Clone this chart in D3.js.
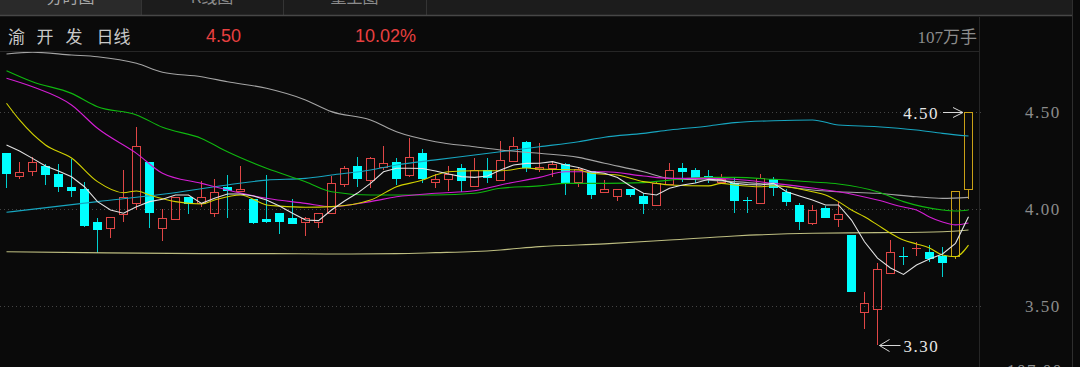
<!DOCTYPE html>
<html><head><meta charset="utf-8">
<script src="https://cdn.jsdelivr.net/npm/d3@7"></script>
<style>
html,body{margin:0;padding:0;background:#0a0a0a;overflow:hidden;}
svg{display:block;}
</style></head><body>
<svg id="chart" width="1080" height="367"></svg>
<script>
// ---------- data ----------
const tabLabels = ["分时图", "K线图", "量王图"];
const titleChars = ["渝", "开", "发", "日线"];
const lastPriceText = "4.50";
const changeText = "10.02%";
const volumeText = "107万手";
const yTicks = [3.5, 4.0, 4.5];
const volAxisText = "107.00";

const opens = [4.290,4.170,4.197,4.222,4.180,4.112,4.103,3.931,3.900,3.973,
  4.032,4.242,3.900,3.948,4.063,4.029,3.978,4.115,4.094,4.050,
  3.950,3.978,3.954,3.931,3.931,3.978,4.129,4.222,4.149,4.218,
  4.241,4.175,4.290,4.141,4.155,4.213,4.119,4.201,4.149,4.249,
  4.347,4.205,4.210,4.232,4.141,4.197,4.089,4.069,4.102,4.069,
  4.021,4.129,4.213,4.201,4.168,4.141,4.136,4.048,4.032,4.153,
  4.089,4.021,3.929,4.003,3.948,3.866,3.468,3.483,3.669,3.760,
  3.795,3.777,3.758,3.758,4.103];
const highs = [4.290,4.241,4.270,4.232,4.232,4.256,4.141,3.952,3.960,4.201,
  4.421,4.242,3.998,4.060,4.063,4.143,4.153,4.174,4.222,4.050,
  4.175,3.978,4.050,3.960,3.978,4.170,4.222,4.270,4.270,4.325,
  4.261,4.364,4.308,4.180,4.222,4.232,4.261,4.261,4.351,4.373,
  4.352,4.342,4.249,4.239,4.218,4.197,4.149,4.102,4.102,4.081,
  4.141,4.236,4.236,4.210,4.201,4.180,4.158,4.060,4.180,4.166,
  4.102,4.032,4.021,4.015,4.038,3.866,3.571,3.723,3.840,3.806,
  3.831,3.814,3.803,4.093,4.500];
const lows = [4.108,4.153,4.172,4.124,4.089,4.063,3.906,3.772,3.849,3.931,
  3.995,3.904,3.835,3.943,3.974,4.012,3.960,3.952,4.089,3.921,
  3.930,3.871,3.923,3.862,3.904,3.978,4.112,4.112,4.107,4.201,
  4.124,4.163,4.132,4.110,4.094,4.086,4.119,4.132,4.149,4.249,
  4.192,4.190,4.163,4.072,4.112,4.050,4.089,4.043,4.063,3.974,
  4.015,4.129,4.141,4.132,4.132,4.141,3.981,3.981,4.032,4.067,
  4.015,3.892,3.918,3.952,3.906,3.574,3.381,3.300,3.669,3.711,
  3.758,3.728,3.651,3.741,4.052];
const closes = [4.182,4.192,4.241,4.174,4.113,4.091,3.912,3.892,3.960,4.062,
  4.325,3.981,3.952,4.060,4.026,4.060,4.089,4.093,4.102,3.926,
  3.933,3.931,3.923,3.954,3.978,4.132,4.213,4.153,4.261,4.235,
  4.153,4.270,4.153,4.153,4.180,4.144,4.201,4.158,4.253,4.325,
  4.213,4.218,4.232,4.132,4.206,4.072,4.102,4.102,4.072,4.024,
  4.132,4.201,4.192,4.155,4.165,4.153,4.043,4.043,4.158,4.107,
  4.038,3.935,3.995,3.952,3.974,3.574,3.517,3.689,3.780,3.755,
  3.800,3.741,3.723,4.093,4.500];

// moving averages
const ma5 = [4.330,4.299,4.261,4.222,4.196,4.166,4.115,4.038,3.995,3.978,
  4.012,4.038,4.050,4.072,4.072,4.029,4.055,4.077,4.077,4.067,
  4.046,4.015,3.978,3.943,3.940,3.995,4.041,4.082,4.132,4.192,
  4.210,4.210,4.209,4.196,4.180,4.167,4.163,4.170,4.201,4.227,
  4.235,4.236,4.244,4.227,4.214,4.192,4.184,4.162,4.119,4.081,
  4.072,4.107,4.124,4.134,4.153,4.149,4.132,4.126,4.124,4.132,
  4.089,4.067,4.046,4.021,4.021,3.943,3.831,3.747,3.696,3.663,
  3.711,3.742,3.768,3.823,3.960];
const ma10 = [[0,4.545],[1,4.459],[3,4.330],[5,4.263],[7,4.141],[9,4.084],[10,4.093],[11,4.072],
  [13,4.038],[15,4.026],[16,4.046],[18,4.072],[20,4.021],[21,4.015],[23,4.009],[25,4.012],
  [28,4.046],[30,4.115],[32,4.149],[33,4.175],[34,4.192],[36,4.197],[38,4.197],[40,4.211],
  [41,4.206],[44,4.201],[45,4.184],[47,4.175],[49,4.141],[50,4.132],[51,4.124],[54,4.119],
  [55,4.132],[56,4.124],[58,4.115],[59,4.120],[60,4.115],[62,4.089],[63,4.072],[64,4.038],
  [65,3.995],[66,3.960],[67,3.918],[68,3.875],[69,3.840],[70,3.820],[71,3.799],[72,3.763],
  [73,3.754],[74,3.814]];
const ma20 = [[0,4.674],[2,4.630],[5,4.536],[7,4.416],[10,4.287],[12,4.184],[15,4.132],[17,4.098],
  [20,4.055],[23,4.029],[25,4.012],[28,4.038],[30,4.063],[33,4.081],[36,4.094],[38,4.124],
  [41,4.163],[43,4.192],[46,4.192],[49,4.170],[51,4.158],[54,4.158],[56,4.153],[59,4.132],
  [62,4.108],[64,4.089],[67,4.046],[69,4.010],[70,3.995],[71,3.959],[72,3.933],[73,3.918],[74,3.928]];
const ma30 = [[0,4.713],[2,4.656],[5,4.596],[7,4.527],[10,4.485],[12,4.421],[15,4.364],[17,4.295],
  [20,4.210],[23,4.141],[25,4.089],[28,4.072],[31,4.072],[33,4.072],[36,4.081],[38,4.107],
  [41,4.119],[43,4.132],[46,4.132],[49,4.136],[51,4.149],[54,4.163],[56,4.163],[59,4.153],
  [62,4.139],[64,4.129],[67,4.089],[69,4.038],[72,3.995],[73,3.990],[74,3.995]];
const ma60 = [[0,4.799],[2,4.808],[5,4.794],[7,4.785],[10,4.751],[12,4.705],[15,4.682],[17,4.656],
  [20,4.622],[23,4.562],[25,4.502],[28,4.459],[30,4.398],[33,4.347],[36,4.321],[38,4.304],
  [41,4.287],[44,4.266],[46,4.236],[49,4.192],[51,4.158],[54,4.149],[56,4.141],[59,4.124],
  [62,4.098],[64,4.089],[67,4.081],[70,4.063],[72,4.055],[74,4.060]];
const ma120 = [[0,3.983],[7,4.038],[12,4.076],[17,4.124],[20,4.149],[23,4.158],[25,4.175],[28,4.201],
  [30,4.227],[33,4.253],[36,4.278],[38,4.295],[41,4.321],[44,4.347],[46,4.370],[49,4.390],
  [51,4.407],[54,4.428],[56,4.445],[59,4.455],[62,4.459],[64,4.433],[67,4.424],[70,4.407],
  [72,4.390],[74,4.376]];
const ma250 = [[0,3.780],[6,3.775],[15,3.770],[20,3.770],[25,3.768],[30,3.770],[33,3.775],[36,3.781],
  [38,3.789],[41,3.806],[46,3.820],[51,3.840],[56,3.861],[62,3.875],[67,3.878],[72,3.883],[74,3.892]];

// ---------- drawing ----------
const svg = d3.select("#chart");
const W = 1080, H = 367;
const plotRight = 979, axisRight = 1072;
const bg = "#0a0a0a";

svg.append("rect").attr("width", W).attr("height", H).attr("fill", bg);

// tab bar
const tabW = [0, 141, 283, 426];
svg.append("rect").attr("x", 0).attr("y", 0).attr("width", axisRight).attr("height", 15).attr("fill", "#1c1c1c");
svg.append("rect").attr("x", 0).attr("y", 0).attr("width", 141).attr("height", 15).attr("fill", "#2a2a2a");
[141.5, 283.5, 426.5].forEach(x => svg.append("line").attr("x1", x).attr("x2", x).attr("y1", 0).attr("y2", 15).attr("stroke", "#343434"));
svg.append("line").attr("x1", 0).attr("x2", axisRight).attr("y1", 15.5).attr("y2", 15.5).attr("stroke", "#474747").attr("stroke-width", 1.5);
tabLabels.forEach((t, i) => {
  svg.append("text").attr("x", (tabW[i] + (tabW[i+1] || 0)) / 2).attr("y", 3)
    .attr("text-anchor", "middle").attr("font-family", "'Noto Sans CJK SC', sans-serif")
    .attr("font-size", 16).attr("fill", i === 0 ? "#a8a8a8" : "#8c8c8c").text(t);
});

// frame lines
svg.append("line").attr("x1", 0).attr("x2", plotRight).attr("y1", 51.5).attr("y2", 51.5).attr("stroke", "#262626");
svg.append("line").attr("x1", plotRight + 0.5).attr("x2", plotRight + 0.5).attr("y1", 17).attr("y2", H).attr("stroke", "#262626");
svg.append("line").attr("x1", axisRight + 0.5).attr("x2", axisRight + 0.5).attr("y1", 0).attr("y2", H).attr("stroke", "#2e2e2e");

// header
const title = svg.append("text").attr("y", 43).attr("font-family", "'Noto Sans CJK SC', sans-serif")
  .attr("font-size", 17).attr("fill", "#c8c8c8");
const titleX = [8, 36.5, 65.5, 96.5];
titleChars.forEach((c, i) => title.append("tspan").attr("x", titleX[i]).text(c));
svg.append("text").attr("x", 206).attr("y", 41.5).attr("font-family", "'Liberation Sans', Arial, sans-serif")
  .attr("font-size", 18).attr("fill", "#e84040").text(lastPriceText);
svg.append("text").attr("x", 355).attr("y", 41.5).attr("font-family", "'Liberation Sans', Arial, sans-serif")
  .attr("font-size", 18).attr("fill", "#e84040").text(changeText);
svg.append("text").attr("x", 977).attr("y", 43).attr("text-anchor", "end")
  .attr("font-family", "'Liberation Serif', 'Noto Sans CJK SC', serif")
  .attr("font-size", 17).attr("fill", "#8c8c8c").text(volumeText);

// scales
const n = closes.length;
const x = d3.scaleBand().domain(d3.range(n)).range([0, 975]).paddingInner(0.3).paddingOuter(0.15);
const y = d3.scaleLinear().domain([3.5, 4.5]).range([306, 112]);
const cx = i => x(i) + x.bandwidth() / 2;

// grid
svg.append("g").selectAll("line").data(yTicks).join("line")
  .attr("x1", 0).attr("x2", 983)
  .attr("y1", d => Math.round(y(d)) + 0.5).attr("y2", d => Math.round(y(d)) + 0.5)
  .attr("stroke", "#444").attr("stroke-dasharray", "1,3");

// right axis
const axis = svg.append("g").attr("transform", "translate(1025,0)")
  .call(d3.axisRight(y).tickValues(yTicks).tickSize(0).tickPadding(0).tickFormat(d3.format(".2f")));
axis.select(".domain").remove();
axis.selectAll("text").attr("font-family", "'Liberation Serif', serif").attr("font-size", 17)
  .attr("fill", "#8c8c8c").attr("letter-spacing", "1.5px").attr("x", 0);
svg.append("text").attr("x", 1007).attr("y", 376).attr("font-family", "'Liberation Serif', serif")
  .attr("font-size", 17).attr("fill", "#8c8c8c").attr("letter-spacing", "1.5px").text(volAxisText);

// plot area
svg.append("clipPath").attr("id", "plotClip").append("rect").attr("x", 0).attr("y", 52).attr("width", plotRight).attr("height", H - 52);
const plot = svg.append("g").attr("clip-path", "url(#plotClip)");

const RED = "#e04646", CYAN = "#00ffff", CYAN_W = "#00d0d0", GOLD = "#c9a016";
const candles = d3.range(n).map(i => {
  const prev = i > 0 ? closes[i - 1] : opens[i];
  const limitUp = (closes[i] - prev) / prev >= 0.099;
  return {i, o: opens[i], h: highs[i], l: lows[i], c: closes[i], limitUp};
});

const cg = plot.append("g");
candles.forEach(d => {
  const bx = Math.round(x(d.i));
  const wx = bx + 4.5;
  const up = d.c >= d.o;
  const yTop = Math.round(y(Math.max(d.o, d.c)));
  const yBot = Math.round(y(Math.min(d.o, d.c)));
  const yH = Math.round(y(d.h)), yL = Math.round(y(d.l));
  if (up || d.limitUp) {
    const col = d.limitUp ? GOLD : RED;
    if (yH < yTop) cg.append("line").attr("x1", wx).attr("x2", wx).attr("y1", yH).attr("y2", yTop).attr("stroke", col);
    if (yL > yBot) cg.append("line").attr("x1", wx).attr("x2", wx).attr("y1", yBot).attr("y2", yL).attr("stroke", col);
    if (yBot - yTop <= 1) {
      cg.append("line").attr("x1", bx).attr("x2", bx + 9).attr("y1", yTop + 0.5).attr("y2", yTop + 0.5).attr("stroke", col);
    } else {
      cg.append("rect").attr("x", bx + 0.5).attr("y", yTop + 0.5).attr("width", 8).attr("height", yBot - yTop)
        .attr("fill", "none").attr("stroke", col);
    }
  } else {
    cg.append("line").attr("x1", wx).attr("x2", wx).attr("y1", yH).attr("y2", yL).attr("stroke", CYAN_W);
    cg.append("rect").attr("x", bx).attr("y", yTop).attr("width", 9).attr("height", Math.max(1, yBot - yTop)).attr("fill", CYAN);
  }
});

// moving average lines (drawn over candles)
const lineIdx = d3.line().x(d => cx(d[0])).y(d => y(d[1])).curve(d3.curveMonotoneX);
const maStyles = [
  {data: ma250, color: "#bdbd80"},
  {data: ma120, color: "#17a6c0"},
  {data: ma60, color: "#a4a4a4"},
  {data: ma30, color: "#0fb80f"},
  {data: ma20, color: "#d41ed4"},
  {data: ma10, color: "#d2d200"},
  {data: ma5.map((v, i) => [i, v]), color: "#e2e2e2", linear: true}
];
maStyles.forEach(m => {
  const gen = m.linear ? d3.line().x(d => cx(d[0])).y(d => y(d[1])) : lineIdx;
  plot.append("path").attr("d", gen(m.data)).attr("fill", "none").attr("stroke", m.color).attr("stroke-width", 1.1);
});

// high / low annotations
const hiIdx = d3.maxIndex(highs), loIdx = d3.minIndex(lows);
const annFont = "'Liberation Serif', serif";
const hiY = Math.round(y(highs[hiIdx])) + 0.5, hiX = Math.round(x(hiIdx)) - 1;
plot.append("path").attr("d", `M${hiX - 20},${hiY}H${hiX}M${hiX - 10},${hiY - 5}L${hiX},${hiY}L${hiX - 10},${hiY + 5}`)
  .attr("stroke", "#d8d8d8").attr("fill", "none");
plot.append("text").attr("x", hiX - 24).attr("y", hiY + 6).attr("text-anchor", "end")
  .attr("font-family", annFont).attr("font-size", 17).attr("fill", "#e6e6e6").attr("letter-spacing", "1.5px")
  .text(d3.format(".2f")(highs[hiIdx]));
const loY = Math.round(y(lows[loIdx])) + 0.5, loX = cx(loIdx) + 2;
plot.append("path").attr("d", `M${loX + 21},${loY}H${loX}M${loX + 10},${loY - 6}L${loX},${loY}L${loX + 10},${loY + 6}`)
  .attr("stroke", "#d8d8d8").attr("fill", "none");
plot.append("text").attr("x", loX + 24).attr("y", loY + 6)
  .attr("font-family", annFont).attr("font-size", 17).attr("fill", "#e6e6e6").attr("letter-spacing", "1.5px")
  .text(d3.format(".2f")(lows[loIdx]));
</script>
</body></html>
